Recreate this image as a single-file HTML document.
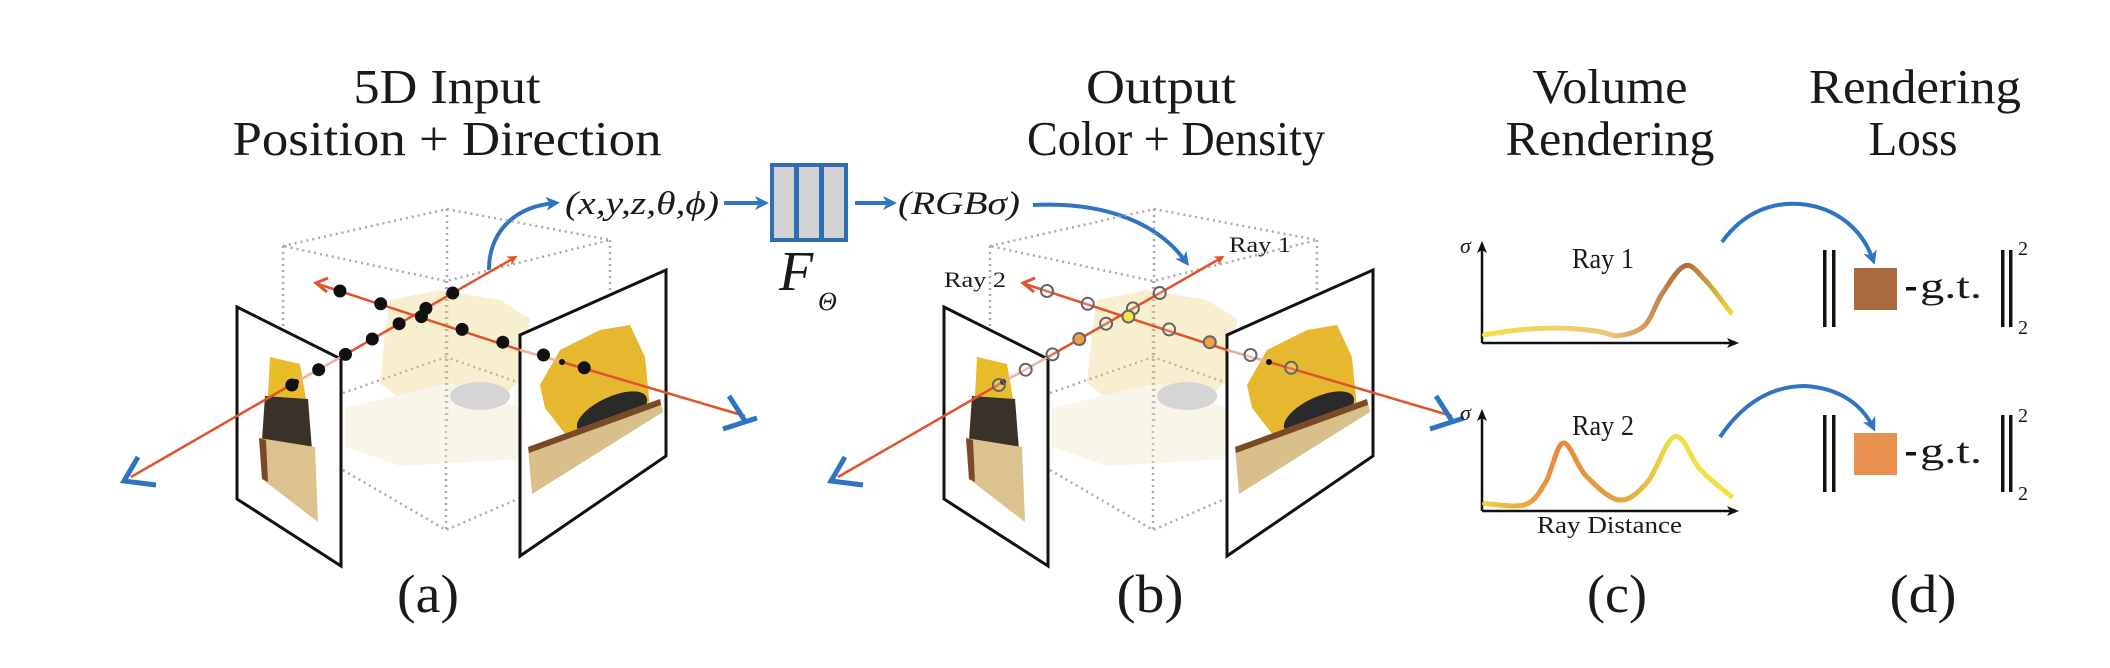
<!DOCTYPE html>
<html><head><meta charset="utf-8"><style>
html,body{margin:0;padding:0;background:#fff;overflow:hidden;}
svg{display:block;}
text{font-family:"Liberation Serif",serif;fill:#1a1a1a;}
</style></head><body>
<svg id="fig" width="2110" height="668" viewBox="0 0 2110 668" xmlns="http://www.w3.org/2000/svg">
<defs>
<marker id="ah-red" markerWidth="10" markerHeight="10" refX="6" refY="5" orient="auto" markerUnits="userSpaceOnUse"><path d="M0,0 L10,5 L0,10 L3,5 z" fill="#e0532b"/></marker>
<marker id="ah-blue" markerWidth="14" markerHeight="14" refX="9" refY="7" orient="auto" markerUnits="userSpaceOnUse"><path d="M0,0 L14,7 L0,14 L4,7 z" fill="#2f74c0"/></marker>
<marker id="ah-black" markerWidth="12" markerHeight="12" refX="9" refY="6" orient="auto" markerUnits="userSpaceOnUse"><path d="M0,1 L12,6 L0,11 L3,6 z" fill="#111"/></marker>
<linearGradient id="g1" gradientUnits="userSpaceOnUse" x1="1482" y1="0" x2="1736" y2="0">
<stop offset="0" stop-color="#f3e24a"/><stop offset="0.5" stop-color="#efc47a"/><stop offset="0.8" stop-color="#b0693a"/><stop offset="1" stop-color="#f2e23c"/>
</linearGradient>
<linearGradient id="g2" gradientUnits="userSpaceOnUse" x1="1482" y1="0" x2="1736" y2="0">
<stop offset="0" stop-color="#f0d040"/><stop offset="0.3" stop-color="#e8883f"/><stop offset="0.55" stop-color="#e0a540"/><stop offset="0.76" stop-color="#efe04a"/><stop offset="1" stop-color="#f2e23c"/>
</linearGradient>
</defs>

<!-- Titles -->
<text x="447" y="103" font-size="49" text-anchor="middle" textLength="187" lengthAdjust="spacingAndGlyphs">5D Input</text>
<text x="447" y="155" font-size="49" text-anchor="middle" textLength="429" lengthAdjust="spacingAndGlyphs">Position + Direction</text>
<text x="1161" y="103" font-size="49" text-anchor="middle" textLength="150" lengthAdjust="spacingAndGlyphs">Output</text>
<text x="1176" y="155" font-size="49" text-anchor="middle" textLength="298" lengthAdjust="spacingAndGlyphs">Color + Density</text>
<text x="1610" y="103" font-size="49" text-anchor="middle" textLength="155" lengthAdjust="spacingAndGlyphs">Volume</text>
<text x="1610" y="155" font-size="49" text-anchor="middle" textLength="209" lengthAdjust="spacingAndGlyphs">Rendering</text>
<text x="1915" y="103" font-size="49" text-anchor="middle" textLength="212" lengthAdjust="spacingAndGlyphs">Rendering</text>
<text x="1913" y="155" font-size="49" text-anchor="middle" textLength="89" lengthAdjust="spacingAndGlyphs">Loss</text>

<!-- Panel labels -->
<text x="428" y="612" font-size="54" text-anchor="middle" textLength="62" lengthAdjust="spacingAndGlyphs">(a)</text>
<text x="1150" y="612" font-size="54" text-anchor="middle" textLength="67" lengthAdjust="spacingAndGlyphs">(b)</text>
<text x="1617" y="612" font-size="54" text-anchor="middle" textLength="60" lengthAdjust="spacingAndGlyphs">(c)</text>
<text x="1923" y="612" font-size="54" text-anchor="middle" textLength="67" lengthAdjust="spacingAndGlyphs">(d)</text>

<!-- Network -->
<text x="565" y="214" font-size="33" font-style="italic" textLength="154" lengthAdjust="spacingAndGlyphs">(x,y,z,θ,ϕ)</text>
<line x1="724" y1="203" x2="764" y2="203" stroke="#2f74c0" stroke-width="4" marker-end="url(#ah-blue)"/>
<g fill="#d3d3d3" stroke="#2f6db5" stroke-width="4">
<rect x="772" y="165" width="24" height="75"/>
<rect x="797" y="165" width="24" height="75"/>
<rect x="822" y="165" width="24" height="75"/>
</g>
<text x="779" y="290" font-size="56" font-style="italic">F</text>
<text x="818" y="310" font-size="26" font-style="italic">Θ</text>
<line x1="855" y1="203" x2="892" y2="203" stroke="#2f74c0" stroke-width="4" marker-end="url(#ah-blue)"/>
<text x="898" y="214" font-size="33" font-style="italic" textLength="122" lengthAdjust="spacingAndGlyphs">(RGBσ)</text>
<path d="M1033,205 C1110,201 1160,226 1186,262" fill="none" stroke="#2f74c0" stroke-width="4" marker-end="url(#ah-blue)"/>
<path d="M489,270 C489,236 510,207 555,203" fill="none" stroke="#2f74c0" stroke-width="4" marker-end="url(#ah-blue)"/>

<!-- Scene A -->
<g id="sceneA">
  <g fill="none" stroke="#aaa" stroke-width="2.5" stroke-dasharray="2,4">
    <path d="M283,246 L447,209 L610,240 L446,281 Z"/>
    <path d="M283,246 L283,472 M447,209 L447,421 M610,240 L610,459 M446,281 L446,530"/>
    <path d="M343,470 L446,530 L520,498 M343,393 L446,357 L520,383"/>
  </g>
  <g opacity="0.35">
    <path d="M390,300 L440,290 L500,300 L530,319 L525,376 L490,408 L420,415 L380,383 L385,332 Z" fill="#ecd27a"/>
    <path d="M345,408 L450,383 L520,408 L520,459 L400,466 L345,447 Z" fill="#f1e3c2"/>
    <ellipse cx="480" cy="396" rx="30" ry="14" fill="#888"/>
  </g>
  <g>
    <polygon points="237,307 341,359 341,566 237,499" fill="#fff" stroke="#111" stroke-width="3"/>
    <polygon points="270,357 300,364 306,399 268,396" fill="#e9bd2a"/>
    <polygon points="265,396 308,399 312,450 262,440" fill="#3a3128"/>
    <polygon points="259,438 315,447 318,522 262,479" fill="#dcc28e"/>
    <polygon points="259,438 266,440 268,482 262,479" fill="#7a4a26"/>
  </g>
  <g>
    <polygon points="520,335 666,270 666,456 520,556" fill="#fff" stroke="#111" stroke-width="3"/>
    <polygon points="540,385 560,350 600,330 630,325 645,357 650,408 600,437 570,440 545,408" fill="#e6b830"/>
    <ellipse cx="612" cy="413" rx="38" ry="16" fill="#2b2a2a" transform="rotate(-25 612 413)"/>
    <polygon points="528,447 660,399 663,412 532,494" fill="#d9bf8a"/>
    <polygon points="528,447 660,399 661,405 529,453" fill="#7a4a26"/>
  </g>
  <g>
    <line x1="131" y1="477" x2="296" y2="382" stroke="#e0532b" stroke-width="2.5"/>
    <line x1="296" y1="382" x2="341" y2="357" stroke="#f0b0a0" stroke-width="2.5"/>
    <line x1="341" y1="357" x2="514" y2="258" stroke="#e0532b" stroke-width="2.5" marker-end="url(#ah-red)"/>
    <circle cx="296" cy="382" r="3" fill="#111"/>
  </g>
  <g>
    <line x1="318" y1="284" x2="520" y2="350" stroke="#e0532b" stroke-width="2.5"/>
    <line x1="520" y1="350" x2="562" y2="362" stroke="#f0b0a0" stroke-width="2.5"/>
    <line x1="562" y1="362" x2="745" y2="416" stroke="#e0532b" stroke-width="2.5"/>
    <path d="M327,292 L316,283 L328,278" fill="none" stroke="#e0532b" stroke-width="3"/>
    <circle cx="562" cy="362" r="3" fill="#111"/>
  </g>
  <g fill="none" stroke="#2f74c0" stroke-width="5"><polyline points="138,457 124,481 156,485"/></g>
  <g fill="none" stroke="#2f74c0" stroke-width="5"><path d="M729,396 L745,421 M723,429 L757,418"/></g>
</g>

<!-- Scene B (same geometry shifted) -->
<g transform="translate(707,0)">
  <g fill="none" stroke="#aaa" stroke-width="2.5" stroke-dasharray="2,4">
    <path d="M283,246 L447,209 L610,240 L446,281 Z"/>
    <path d="M283,246 L283,472 M447,209 L447,421 M610,240 L610,459 M446,281 L446,530"/>
    <path d="M343,470 L446,530 L520,498 M343,393 L446,357 L520,383"/>
  </g>
  <g opacity="0.35">
    <path d="M390,300 L440,290 L500,300 L530,319 L525,376 L490,408 L420,415 L380,383 L385,332 Z" fill="#ecd27a"/>
    <path d="M345,408 L450,383 L520,408 L520,459 L400,466 L345,447 Z" fill="#f1e3c2"/>
    <ellipse cx="480" cy="396" rx="30" ry="14" fill="#888"/>
  </g>
  <polygon points="237,307 341,359 341,566 237,499" fill="#fff" stroke="#111" stroke-width="3"/>
  <polygon points="270,357 300,364 306,399 268,396" fill="#e9bd2a"/>
  <polygon points="265,396 308,399 312,450 262,440" fill="#3a3128"/>
  <polygon points="259,438 315,447 318,522 262,479" fill="#dcc28e"/>
  <polygon points="259,438 266,440 268,482 262,479" fill="#7a4a26"/>
  <polygon points="520,335 666,270 666,456 520,556" fill="#fff" stroke="#111" stroke-width="3"/>
  <polygon points="540,385 560,350 600,330 630,325 645,357 650,408 600,437 570,440 545,408" fill="#e6b830"/>
  <ellipse cx="612" cy="413" rx="38" ry="16" fill="#2b2a2a" transform="rotate(-25 612 413)"/>
  <polygon points="528,447 660,399 663,412 532,494" fill="#d9bf8a"/>
  <polygon points="528,447 660,399 661,405 529,453" fill="#7a4a26"/>
  <line x1="131" y1="477" x2="296" y2="382" stroke="#e0532b" stroke-width="2.5"/>
  <line x1="296" y1="382" x2="341" y2="357" stroke="#f0b0a0" stroke-width="2.5"/>
  <line x1="341" y1="357" x2="514" y2="258" stroke="#e0532b" stroke-width="2.5" marker-end="url(#ah-red)"/>
  <circle cx="296" cy="382" r="3" fill="#111"/>
  <line x1="318" y1="284" x2="520" y2="350" stroke="#e0532b" stroke-width="2.5"/>
  <line x1="520" y1="350" x2="562" y2="362" stroke="#f0b0a0" stroke-width="2.5"/>
  <line x1="562" y1="362" x2="745" y2="416" stroke="#e0532b" stroke-width="2.5"/>
  <path d="M327,292 L316,283 L328,278" fill="none" stroke="#e0532b" stroke-width="3"/>
  <circle cx="562" cy="362" r="3" fill="#111"/>
  <polyline points="138,457 124,481 156,485" fill="none" stroke="#2f74c0" stroke-width="5"/>
  <path d="M729,396 L745,421 M723,429 L757,418" fill="none" stroke="#2f74c0" stroke-width="5"/>
</g>
<text x="1229" y="252" font-size="22" textLength="62" lengthAdjust="spacingAndGlyphs">Ray 1</text>
<text x="944" y="287" font-size="22" textLength="62" lengthAdjust="spacingAndGlyphs">Ray 2</text>
<g id="samplesA"></g>
<g id="samplesB"></g>

<!-- Panel C plots -->
<g>
  <line x1="1482" y1="343" x2="1482" y2="244" stroke="#111" stroke-width="2.5" marker-end="url(#ah-black)"/>
  <line x1="1482" y1="343" x2="1736" y2="343" stroke="#111" stroke-width="2.5" marker-end="url(#ah-black)"/>
  <text x="1460" y="253" font-size="22" font-style="italic">σ</text>
  <text x="1572" y="268" font-size="29" textLength="62" lengthAdjust="spacingAndGlyphs">Ray 1</text>
  <path id="curve1" fill="none" stroke="url(#g1)" stroke-width="5" stroke-linecap="round"/>
</g>
<g>
  <line x1="1482" y1="511" x2="1482" y2="412" stroke="#111" stroke-width="2.5" marker-end="url(#ah-black)"/>
  <line x1="1482" y1="511" x2="1736" y2="511" stroke="#111" stroke-width="2.5" marker-end="url(#ah-black)"/>
  <text x="1460" y="420" font-size="22" font-style="italic">σ</text>
  <text x="1572" y="435" font-size="29" textLength="62" lengthAdjust="spacingAndGlyphs">Ray 2</text>
  <text x="1537" y="533" font-size="24" textLength="145" lengthAdjust="spacingAndGlyphs">Ray Distance</text>
  <path id="curve2" fill="none" stroke="url(#g2)" stroke-width="5" stroke-linecap="round"/>
</g>

<!-- Panel D -->
<path d="M1722,242 C1745,210 1775,202 1800,204 C1835,207 1862,228 1873,260" fill="none" stroke="#2f74c0" stroke-width="4" marker-end="url(#ah-blue)"/>
<path d="M1720,437 C1745,400 1775,386 1805,386 C1840,388 1862,405 1873,427" fill="none" stroke="#2f74c0" stroke-width="4" marker-end="url(#ah-blue)"/>
<g>
  <rect x="1823" y="250" width="3.5" height="77" fill="#111"/><rect x="1832" y="250" width="3.5" height="77" fill="#111"/>
  <rect x="1854" y="268" width="43" height="42" fill="#a86a3f"/>
  <rect x="1906" y="287" width="10" height="3.5" fill="#111"/>
  <text x="1920" y="298" font-size="36" textLength="62" lengthAdjust="spacingAndGlyphs">g.t.</text>
  <rect x="2001" y="250" width="3.5" height="77" fill="#111"/><rect x="2009" y="250" width="3.5" height="77" fill="#111"/>
  <text x="2018" y="255" font-size="20">2</text><text x="2018" y="334" font-size="20">2</text>
</g>
<g>
  <rect x="1823" y="415" width="3.5" height="77" fill="#111"/><rect x="1832" y="415" width="3.5" height="77" fill="#111"/>
  <rect x="1854" y="433" width="43" height="42" fill="#e8904f"/>
  <rect x="1906" y="452" width="10" height="3.5" fill="#111"/>
  <text x="1920" y="463" font-size="36" textLength="62" lengthAdjust="spacingAndGlyphs">g.t.</text>
  <rect x="2001" y="415" width="3.5" height="77" fill="#111"/><rect x="2009" y="415" width="3.5" height="77" fill="#111"/>
  <text x="2018" y="422" font-size="20">2</text><text x="2018" y="500" font-size="20">2</text>
</g>
</svg>
<script>
// density curves: ray distance fraction vs sigma fraction
const ray1Dist = [0.01,0.17,0.33,0.46,0.54,0.64,0.71,0.80,0.88,0.98];
const ray1Sigma = [0.09,0.15,0.16,0.125,0.08,0.19,0.54,0.84,0.68,0.33];
const ray2Dist = [0.01,0.17,0.25,0.32,0.41,0.54,0.65,0.76,0.86,0.98];
const ray2Sigma = [0.08,0.07,0.31,0.74,0.38,0.12,0.31,0.81,0.45,0.16];
// sample points along rays (fraction along segment), and sample states for panel b
const ray1Samples = [0.42,0.49,0.56,0.63,0.70,0.77,0.84];
const ray2Samples = [0.00,0.10,0.20,0.30,0.40,0.50,0.60];
const ray1State = ['o','o','o','orange','o','o','o'];
const ray2State = ['o','o','yellow','o','orange','o','o'];

const NS='http://www.w3.org/2000/svg';
function xS(v){return 1482+v*254;}
function yS(v,base){return base-v*92;}
function smooth(pts){
  let d='M'+pts[0][0]+','+pts[0][1];
  for(let i=0;i<pts.length-1;i++){
    const p0=pts[i-1]||pts[i],p1=pts[i],p2=pts[i+1],p3=pts[i+2]||p2;
    const c1=[p1[0]+(p2[0]-p0[0])/6,p1[1]+(p2[1]-p0[1])/6];
    const c2=[p2[0]-(p3[0]-p1[0])/6,p2[1]-(p3[1]-p1[1])/6];
    d+=' C'+c1.join(',')+' '+c2.join(',')+' '+p2.join(',');
  }
  return d;
}
document.getElementById('curve1').setAttribute('d',smooth(ray1Dist.map((d,i)=>[xS(d),yS(ray1Sigma[i],343)])));
document.getElementById('curve2').setAttribute('d',smooth(ray2Dist.map((d,i)=>[xS(d),yS(ray2Sigma[i],511)])));

const r1a=[131,477], r1b=[514,258];
const r2a=[340,291], r2b=[747,419];
function lerp(a,b,t){return [a[0]+(b[0]-a[0])*t,a[1]+(b[1]-a[1])*t];}
function addSamples(gid,dx,filled){
  const g=document.getElementById(gid);
  [[r1a,r1b,ray1Samples,ray1State],[r2a,r2b,ray2Samples,ray2State]].forEach(([a,b,ts,st])=>{
    ts.forEach((t,i)=>{
      const p=lerp(a,b,t);
      const c=document.createElementNS(NS,'circle');
      
      
      c.setAttribute('cx',p[0]+dx);c.setAttribute('cy',p[1]);
      if(filled){c.setAttribute('r',6.5);c.setAttribute('fill','#111');}
      else{
        c.setAttribute('r',6);
        c.setAttribute('fill',st[i]==='orange'?'#eea04a':st[i]==='yellow'?'#f3e642':'#fff');
        c.setAttribute('fill-opacity',st[i]==='o'?'0.2':'1');
        c.setAttribute('stroke','#666');c.setAttribute('stroke-width','2');
      }
      g.appendChild(c);
    });
  });
}
addSamples('samplesA',0,true);
addSamples('samplesB',707,false);
</script>
</body></html>
